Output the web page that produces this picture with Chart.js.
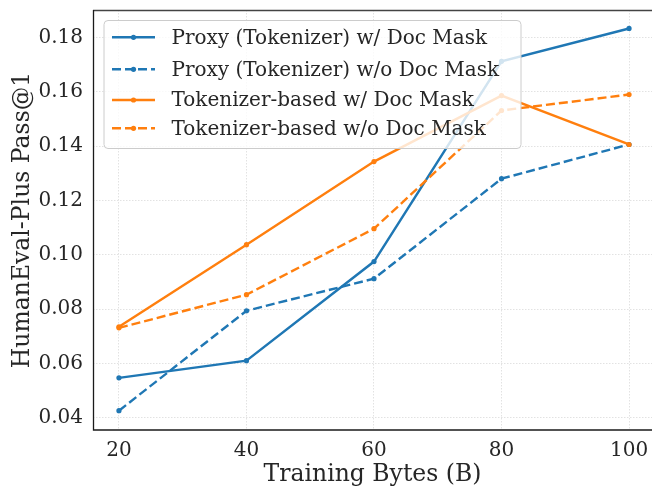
<!DOCTYPE html>
<html>
<head>
<meta charset="utf-8">
<script src="https://cdn.jsdelivr.net/npm/chart.js@4.4.0/dist/chart.umd.min.js"></script>
<style>
  html, body { margin: 0; padding: 0; background: #fff; overflow: hidden; }
  #wrap { width: 652px; height: 487px; }
</style>
</head>
<body>
<div id="wrap"><canvas id="chart" width="652" height="487"></canvas></div>
<script>
// data
var trainingBytes = [20, 40, 60, 80, 100];
var proxyWithMask = [0.0547, 0.0610, 0.0975, 0.1712, 0.1833];
var proxyNoMask = [0.0426, 0.0794, 0.0912, 0.1280, 0.1406];
var tokWithMask = [0.0735, 0.1037, 0.1343, 0.1586, 0.1406];
var tokNoMask = [0.0731, 0.0853, 0.1096, 0.1531, 0.1590];
var xTicks = [20, 40, 60, 80, 100];
var yTicks = [0.04, 0.06, 0.08, 0.10, 0.12, 0.14, 0.16, 0.18];

var blue = '#1f77b4';
var orange = '#ff7f0e';
var serif = "'DejaVu Serif', serif";
var textColor = '#262626';

function pts(ys) {
    return trainingBytes.map(function (x, i) { return { x: x, y: ys[i] }; });
}

function series(label, ys, color, dashed, order) {
    return {
        label: label,
        data: pts(ys),
        borderColor: color,
        backgroundColor: color,
        borderWidth: 2.4,
        borderDash: dashed ? [9, 4] : [],
        pointRadius: 2.6,
        pointBorderWidth: 0,
        pointBackgroundColor: color,
        tension: 0,
        fill: false,
        order: order
    };
}

// legend drawn on top of the lines, like matplotlib's framed legend
var legendPlugin = {
    id: 'mplLegend',
    afterDatasetsDraw: function (chart) {
        var c = chart.ctx;
        var x0 = 104, y0 = 20.5, w = 417, h = 128;
        c.save();
        c.beginPath();
        c.roundRect(x0, y0, w, h, 4);
        c.fillStyle = 'rgba(255,255,255,0.8)';
        c.fill();
        c.strokeStyle = '#cccccc';
        c.lineWidth = 1;
        c.stroke();
        var rows = [37.3, 69.3, 100, 128.3];
        chart.data.datasets.forEach(function (ds, i) {
            var y = rows[i];
            c.beginPath();
            c.setLineDash(ds.borderDash);
            c.strokeStyle = ds.borderColor;
            c.lineWidth = ds.borderWidth;
            c.moveTo(112, y);
            c.lineTo(155, y);
            c.stroke();
            c.setLineDash([]);
            c.beginPath();
            c.arc(133.5, y, 2.6, 0, Math.PI * 2);
            c.fillStyle = ds.borderColor;
            c.fill();
            c.fillStyle = textColor;
            c.font = '20px ' + serif;
            c.textBaseline = 'middle';
            c.fillText(ds.label, 171.5, y + 1);
        });
        c.restore();
    }
};

// spines: left and bottom dark, top grey
var frame = {
    id: 'frame',
    afterDraw: function (chart) {
        var a = chart.chartArea, c = chart.ctx;
        c.save();
        c.lineWidth = 1.3;
        c.strokeStyle = '#444444';
        c.beginPath();
        c.moveTo(a.left, a.top + 0.5);
        c.lineTo(a.right, a.top + 0.5);
        c.stroke();
        c.strokeStyle = '#1a1a1a';
        c.beginPath();
        c.moveTo(a.left + 0.5, a.top);
        c.lineTo(a.left + 0.5, a.bottom);
        c.lineTo(a.right, a.bottom);
        c.stroke();
        c.restore();
    }
};

var ctx = document.getElementById('chart').getContext('2d');
var myChart = new Chart(ctx, {
    type: 'line',
    data: {
        datasets: [
            series('Proxy (Tokenizer) w/ Doc Mask', proxyWithMask, blue, false, 4),
            series('Proxy (Tokenizer) w/o Doc Mask', proxyNoMask, blue, true, 3),
            series('Tokenizer-based w/ Doc Mask', tokWithMask, orange, false, 2),
            series('Tokenizer-based w/o Doc Mask', tokNoMask, orange, true, 1)
        ]
    },
    options: {
        responsive: false,
        animation: false,
        layout: { autoPadding: false, padding: { top: 10, right: 0, left: 0, bottom: 0 } },
        plugins: {
            legend: { display: false },
            tooltip: { enabled: false }
        },
        scales: {
            x: {
                type: 'linear',
                min: 15.93,
                max: 103.6,
                afterBuildTicks: function (s) { s.ticks = xTicks.map(function (v) { return { value: v }; }); },
                afterFit: function (s) { s.height = 57; s.paddingLeft = 0; s.paddingRight = 0; },
                grid: { color: '#e2e2e2', drawTicks: false, lineWidth: 1 },
                border: { display: false, dash: [1.5, 1.5] },
                ticks: { color: textColor, font: { family: serif, size: 20 }, padding: 9, maxRotation: 0 },
                title: { display: true, text: 'Training Bytes (B)', color: textColor, font: { family: serif, size: 23.5 }, padding: { top: 0, bottom: -2 } }
            },
            y: {
                type: 'linear',
                min: 0.0355,
                max: 0.1901,
                afterBuildTicks: function (s) { s.ticks = yTicks.map(function (v) { return { value: v }; }); },
                afterFit: function (s) { s.width = 93; s.paddingTop = 0; s.paddingBottom = 0; },
                grid: { color: '#e2e2e2', drawTicks: false, lineWidth: 1 },
                border: { display: false, dash: [1.5, 1.5] },
                ticks: {
                    color: textColor, font: { family: serif, size: 20 }, padding: 10,
                    callback: function (v) { return v.toFixed(2); }
                },
                title: { display: true, text: 'HumanEval-Plus Pass@1', color: textColor, font: { family: serif, size: 23.5 }, padding: { top: 9, bottom: 0 } }
            }
        }
    },
    plugins: [legendPlugin, frame]
});
</script>
</body>
</html>
